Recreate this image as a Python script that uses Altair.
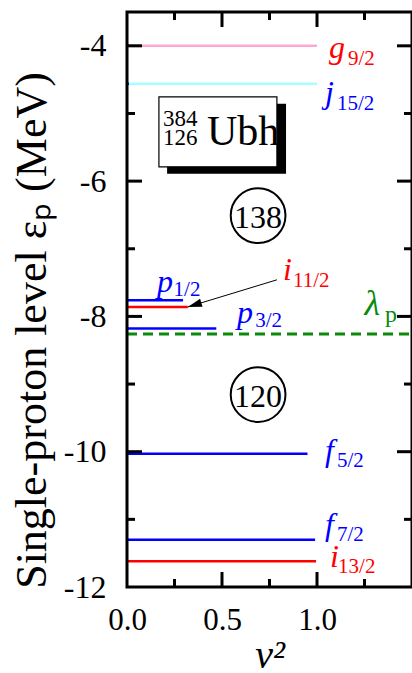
import altair as alt
import pandas as pd

F = "Liberation Serif"

# ---- data ----
level_names = ["g9/2", "j15/2", "p1/2", "i11/2", "p3/2", "f5/2", "f7/2", "i13/2"]
level_energy = [-4.00, -4.56, -7.76, -7.86, -8.18, -10.03, -11.30, -11.62]
level_v2 = [0.01, 0.01, 0.295, 0.32, 0.47, 0.95, 0.99, 0.995]
level_parity = ["+", "-", "-", "+", "-", "-", "-", "+"]

empty_names = ["g9/2", "j15/2"]
empty_energy = [-4.00, -4.56]
empty_parity = ["+", "-"]
empty_end = [1.0, 1.0]

lambda_p = -8.26

magic_numbers = ["138", "120"]
magic_x = [0.69, 0.69]
magic_y = [-6.51, -9.155]

lab_letter = ["g", "j", "p", "i", "p", "f", "f", "i"]
lab_sub = ["9/2", "15/2", "1/2", "11/2", "3/2", "5/2", "7/2", "13/2"]
lab_parity = ["+", "-", "-", "+", "-", "-", "-", "+"]
lab_x = [1.063, 1.042, 0.158, 0.821, 0.579, 1.042, 1.042, 1.068]
lab_y = [-4.177, -4.843, -7.636, -7.459, -8.095, -10.134, -11.228, -11.701]
sub_x = [1.163, 1.105, 0.245, 0.874, 0.675, 1.105, 1.105, 1.111]
sub_y = [-4.281, -4.946, -7.700, -7.562, -8.150, -10.223, -11.317, -11.790]

y_ticks_major = [-4, -6, -8, -10]
y_ticks_minor = [-5, -7, -9, -11]
x_ticks_major = [0.5, 1.0]
x_ticks_minor = [0.25, 0.75, 1.25]
y_label_values = [-4, -6, -8, -10, -12]
x_label_values = [0.0, 0.5, 1.0]

W, H = 285, 575
X_MIN, X_MAX = 0.0, 1.5
xs = alt.Scale(domain=[X_MIN, X_MAX], nice=False, zero=False)
ys = alt.Scale(domain=[-12, -3.5], nice=False, zero=False)
par_col = alt.Scale(domain=["+", "-"], range=["#ff0000", "#0000ff"])
par_light = alt.Scale(domain=["+", "-"], range=["#ffa8d4", "#a8ffff"])

XTITLE = "v²"
YTITLE = "Single-proton level εₚ (MeV)"
xaxis = alt.Axis(values=x_label_values, format=".1f", ticks=False, tickSize=0, domain=False, grid=False,
                 labelFlush=False, labelOverlap=False,
                 labelFont=F, labelFontSize=31, labelColor="black", labelPadding=18,
                 titleFont=F, titleFontSize=40, titleFontStyle="italic", titleFontWeight="normal",
                 titleColor="black", titlePadding=0)
yaxis = alt.Axis(values=y_label_values,
                 labelExpr="datum.value < 0 ? '-' + format(abs(datum.value), 'd') : format(datum.value, 'd')",
                 ticks=False, tickSize=0, domain=False, grid=False,
                 labelFlush=False, labelOverlap=False,
                 labelFont=F, labelFontSize=32, labelColor="black", labelPadding=21,
                 titleFont=F, titleFontSize=44, titleFontWeight="normal", titleColor="black",
                 titlePadding=9, titleY=318)


def X(f):
    return alt.X(f, scale=xs, axis=xaxis, title=XTITLE)


def Y(f):
    return alt.Y(f, scale=ys, axis=yaxis, title=YTITLE)


levels = pd.DataFrame({"name": level_names, "energy": level_energy, "v2": level_v2,
                       "parity": level_parity, "start": 0.0})
empties = pd.DataFrame({"name": empty_names, "energy": empty_energy, "end": empty_end,
                        "parity": empty_parity, "start": 0.0})
labels = pd.DataFrame({"letter": lab_letter, "sub": lab_sub, "parity": lab_parity,
                       "lx": lab_x, "ly": lab_y, "sx": sub_x, "sy": sub_y})


# inward ticks on all four sides (tick length given in pixels, converted to x units)
def yticks(vals, length_px):
    dx = length_px * (X_MAX - X_MIN) / W
    d = pd.DataFrame({"v": vals, "l0": X_MIN, "l1": X_MIN + dx, "r0": X_MAX - dx, "r1": X_MAX})
    left = alt.Chart(d).mark_rule(strokeWidth=3, color="black").encode(
        y=Y("v:Q"), x=X("l0:Q"), x2="l1:Q")
    right = alt.Chart(d).mark_rule(strokeWidth=3, color="black").encode(
        y=Y("v:Q"), x=X("r0:Q"), x2="r1:Q")
    return [left, right]


def xticks(vals, length):
    d = pd.DataFrame({"v": vals})
    bottom = alt.Chart(d).mark_rule(strokeWidth=3, color="black").encode(
        x=X("v:Q"), y=alt.value(H - length), y2=alt.value(H))
    top = alt.Chart(d).mark_rule(strokeWidth=3, color="black").encode(
        x=X("v:Q"), y=alt.value(1), y2=alt.value(length))
    return [bottom, top]


tick_layers = (yticks(y_ticks_major, 15) + yticks(y_ticks_minor, 8)
               + xticks(x_ticks_major, 15) + xticks(x_ticks_minor, 8))

guides = alt.Chart(empties).mark_rule(strokeWidth=2.5).encode(
    x=X("start:Q"), x2="end:Q", y=Y("energy:Q"),
    stroke=alt.Stroke("parity:N", scale=par_light, legend=None),
)

lines = alt.Chart(levels).mark_rule(strokeWidth=2.5).encode(
    x=X("start:Q"), x2="v2:Q", y=Y("energy:Q"),
    color=alt.Color("parity:N", scale=par_col, legend=None),
)

lam = alt.Chart(pd.DataFrame({"e": [lambda_p], "a": [X_MIN], "b": [X_MAX]})).mark_rule(
    strokeWidth=3, color="#0a8a0a", strokeDash=[10, 6]).encode(
    x=X("a:Q"), x2="b:Q", y=Y("e:Q"))

letters = alt.Chart(labels).mark_text(font=F, fontSize=32, fontStyle="italic", align="left",
                                      baseline="alphabetic").encode(
    x=X("lx:Q"), y=Y("ly:Q"), text="letter:N",
    color=alt.Color("parity:N", scale=par_col, legend=None))
subs = alt.Chart(labels).mark_text(font=F, fontSize=21, align="left", baseline="alphabetic").encode(
    x=X("sx:Q"), y=Y("sy:Q"), text="sub:N",
    color=alt.Color("parity:N", scale=par_col, legend=None))

lam_lab = alt.Chart(pd.DataFrame({"t": ["λ"], "x": [1.25], "y": [-7.976]})).mark_text(
    font=F, fontSize=36, fontStyle="italic", align="left", baseline="alphabetic", color="#0a8a0a").encode(
    x=X("x:Q"), y=Y("y:Q"), text="t:N")
lam_sub = alt.Chart(pd.DataFrame({"t": ["p"], "x": [1.358], "y": [-8.080]})).mark_text(
    font=F, fontSize=24, align="left", baseline="alphabetic", color="#0a8a0a").encode(
    x=X("x:Q"), y=Y("y:Q"), text="t:N")

# arrow to i11/2
arrow_df = pd.DataFrame({"x": [0.789], "y": [-7.459], "x2": [0.32], "y2": [-7.86]})
arrow_line = alt.Chart(arrow_df).mark_rule(strokeWidth=1, color="black").encode(
    x=X("x:Q"), y=Y("y:Q"), x2="x2:Q", y2="y2:Q")
arrow_head = alt.Chart(arrow_df).mark_point(
    shape="M0,0 L-0.6,2 L0.6,2 Z", size=200, filled=True, color="black", opacity=1, angle=253).encode(
    x=X("x2:Q"), y=Y("y2:Q"))

# magic-number circles
magic = pd.DataFrame({"n": magic_numbers, "x": magic_x, "y": magic_y})
circles = alt.Chart(magic).mark_point(shape="circle", size=3000, filled=False, strokeWidth=2,
                                      color="black", opacity=1).encode(x=X("x:Q"), y=Y("y:Q"))
circ_txt = alt.Chart(magic).mark_text(font=F, fontSize=32, align="center", baseline="middle", dy=2,
                                      color="black").encode(x=X("x:Q"), y=Y("y:Q"), text="n:N")

# nucleus box with shadow
box = pd.DataFrame({"x": [0.168], "x2": [0.789], "y": [-4.754], "y2": [-5.789],
                    "sx": [0.211], "sx2": [0.837], "sy": [-4.857], "sy2": [-5.892]})
shadow = alt.Chart(box).mark_rect(color="black").encode(
    x=X("sx:Q"), x2="sx2:Q", y=Y("sy:Q"), y2="sy2:Q")
frame_box = alt.Chart(box).mark_rect(fill="white", stroke="black", strokeWidth=1.2).encode(
    x=X("x:Q"), x2="x2:Q", y=Y("y:Q"), y2="y2:Q")
nuc = pd.DataFrame({"t": ["384", "126"], "x": [0.189, 0.189], "y": [-5.183, -5.463]})
nuc_num = alt.Chart(nuc).mark_text(font=F, fontSize=23, align="left", baseline="alphabetic",
                                   color="black").encode(x=X("x:Q"), y=Y("y:Q"), text="t:N")
nuc_sym = alt.Chart(pd.DataFrame({"t": ["Ubh"], "x": [0.421], "y": [-5.463]})).mark_text(
    font=F, fontSize=42, align="left", baseline="alphabetic", color="black").encode(
    x=X("x:Q"), y=Y("y:Q"), text="t:N")

# plot frame
frame = alt.Chart(pd.DataFrame({"k": [0]})).mark_rect(
    stroke="black", strokeWidth=3, filled=False).encode(
    x=alt.value(0), x2=alt.value(W), y=alt.value(0), y2=alt.value(H))

chart = alt.layer(
    guides, lines, lam, shadow, frame_box, nuc_num, nuc_sym,
    circles, circ_txt, arrow_line, arrow_head, letters, subs, lam_lab, lam_sub, frame,
    *tick_layers,
).properties(
    width=W, height=H, background="white",
    autosize=alt.AutoSizeParams(type="none"),
    padding={"left": 127, "top": 12, "right": 0, "bottom": 86},
).configure_view(stroke=None)

chart.save("out.html", embed_options={"renderer": "svg", "actions": False})
